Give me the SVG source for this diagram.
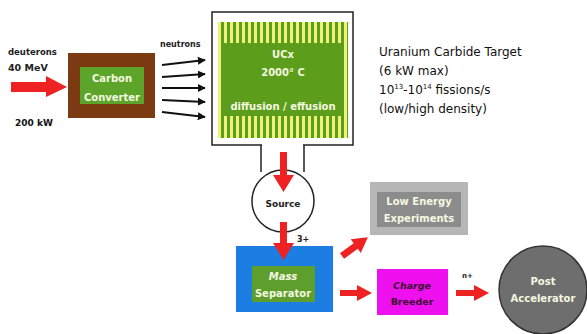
<svg xmlns="http://www.w3.org/2000/svg" width="587" height="334" viewBox="0 0 587 334">
<defs>
<style>
.lbl{font-family:"DejaVu Sans",sans-serif;font-weight:bold;}
.wt{fill:#f4f8e0;font-size:10px;font-weight:bold;text-anchor:middle;font-family:"DejaVu Sans",sans-serif;}
.info{font-family:"DejaVu Sans",sans-serif;font-size:12px;fill:#111;}
.red{fill:#ee2222;}
.nline{stroke:#111;stroke-width:2;fill:none;marker-end:url(#ah);}
</style>
<marker id="ah" viewBox="0 0 10 10" refX="9" refY="5" markerWidth="4" markerHeight="4" orient="auto">
<path d="M0,0 L10,5 L0,10 z" fill="#111"/>
</marker>
<pattern id="stripes" x="218" y="0" width="6" height="10" patternUnits="userSpaceOnUse">
<rect width="6" height="10" fill="#5c9e1c"/>
<rect x="0" width="3" height="10" fill="#eef27a"/>
</pattern>
</defs>

<rect width="587" height="334" fill="#ffffff"/>

<g id="deuterons">
<text class="lbl" x="8" y="55" font-size="8.5" fill="#222">deuterons</text>
<text class="lbl" x="8" y="71" font-size="9.5" fill="#222">40 MeV</text>
<text class="lbl" x="15" y="126" font-size="9" fill="#111">200 kW</text>
</g>

<g id="carbon-converter">
<rect x="68" y="53" width="87" height="65" fill="#7b3a12"/>
<rect x="80" y="67" width="64" height="37" fill="#5da52a"/>
<text class="wt" x="112" y="82">Carbon</text>
<text class="wt" x="112" y="101">Converter</text>
</g>

<g id="target">
<rect x="212" y="12" width="141" height="133" fill="#ffffff" stroke="#222" stroke-width="1.5"/>
<rect x="218" y="22" width="130" height="116" fill="url(#stripes)"/>
<rect x="224" y="43" width="119" height="73" fill="#5c9e1c"/>
<text class="wt" x="283" y="58">UCx</text>
<text class="wt" x="283" y="76">2000° C</text>
<text class="wt" x="283" y="110" font-size="9.5">diffusion / effusion</text>
</g>

<g id="target-info">
<text class="info" x="379" y="56">Uranium Carbide Target</text>
<text class="info" x="379" y="75">(6 kW max)</text>
<text class="info" x="379" y="94">10<tspan font-size="7" dy="-5">13</tspan><tspan dy="5">-10</tspan><tspan font-size="7" dy="-5">14</tspan><tspan dy="5"> fissions/s</tspan></text>
<text class="info" x="379" y="113">(low/high density)</text>
</g>

<g id="source">
<path d="M261,145 V172 M304,145 V172" stroke="#222" stroke-width="1.5" fill="none"/>
<rect x="262" y="144" width="41" height="3" fill="#ffffff"/>
<circle cx="283" cy="201" r="31" fill="#ffffff" stroke="#222" stroke-width="1.5"/>
<text class="lbl" x="283" y="207" font-size="9" fill="#222" text-anchor="middle">Source</text>
</g>

<g id="mass-separator">
<rect x="236" y="246" width="97" height="66" fill="#1c7de2"/>
<rect x="252" y="266" width="63" height="36" fill="#5e9e2c"/>
<text class="wt" x="283" y="280" font-style="italic">Mass</text>
<text class="wt" x="283" y="297">Separator</text>
</g>

<g id="low-energy">
<rect x="370" y="182" width="98" height="53" fill="#b6b6b6"/>
<rect x="377" y="192" width="84" height="35" fill="#8c8c8c"/>
<text class="wt" x="419" y="205" text-anchor="middle">Low Energy</text>
<text class="wt" x="419" y="222">Experiments</text>
</g>

<g id="charge-breeder">
<rect x="377" y="269" width="71" height="46" fill="#ee10ee"/>
<text x="412" y="289" font-family="DejaVu Sans,sans-serif" font-size="9.5" font-weight="bold" font-style="italic" fill="#3a1030" text-anchor="middle">Charge</text>
<text x="412" y="305" font-family="DejaVu Sans,sans-serif" font-size="9.5" font-weight="bold" fill="#3a1030" text-anchor="middle">Breeder</text>
</g>

<g id="post-accelerator">
<circle cx="543" cy="290" r="44" fill="#6e6e6e" stroke="#333" stroke-width="1.5"/>
<text class="wt" x="543" y="285">Post</text>
<text class="wt" x="543" y="302">Accelerator</text>
</g>

<g id="connectors">
<path class="red" d="M11,82 H46 V76 L67,87 L46,97 V92 H11 z"/>
<line class="nline" x1="162" y1="65" x2="205" y2="60"/>
<line class="nline" x1="162" y1="77" x2="205" y2="74"/>
<line class="nline" x1="162" y1="88" x2="205" y2="88"/>
<line class="nline" x1="162" y1="100" x2="205" y2="102"/>
<line class="nline" x1="162" y1="112" x2="205" y2="117"/>
<text class="lbl" x="160" y="47" font-size="8" fill="#222">neutrons</text>
<path class="red" d="M280,152 H287 V175 H294 L283.5,192 L273,175 H280 z"/>
<path class="red" d="M280,222 H287 V243 H294 L283.5,260 L273,243 H280 z"/>
<text class="lbl" x="297" y="242" font-size="8" fill="#222">3+</text>
<path class="red" transform="translate(342,256) rotate(-36)" d="M0,-3.5 H17 V-8.5 L32,0 L17,8.5 V3.5 H0 z"/>
<path class="red" d="M340,290 H357 V285 L372,293 L357,301 V296 H340 z"/>
<text class="lbl" x="462" y="278" font-size="7" fill="#222">n+</text>
<path class="red" d="M456,290 H474 V285 L489,293 L474,301 V296 H456 z"/>
</g>
</svg>
